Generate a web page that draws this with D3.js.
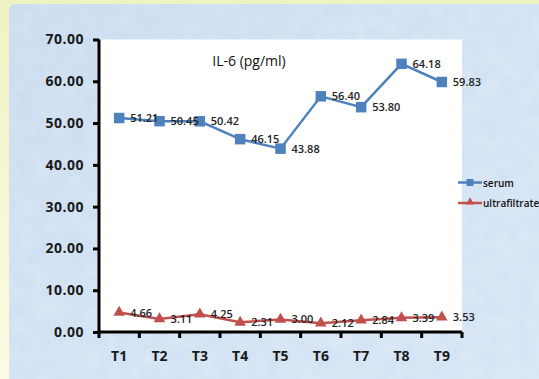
<!DOCTYPE html>
<html><head><meta charset="utf-8">
<script src="https://cdn.jsdelivr.net/npm/d3@7"></script>
<style>
html,body{margin:0;padding:0;background:#fff;}
svg{display:block;}
</style></head>
<body>
<svg id="c" width="539" height="379"></svg>
<script>
const categories = ["T1","T2","T3","T4","T5","T6","T7","T8","T9"];
const serum = [51.21, 50.45, 50.42, 46.15, 43.88, 56.40, 53.80, 64.18, 59.83];
const ultrafiltrate = [4.66, 3.11, 4.25, 2.31, 3.00, 2.12, 2.84, 3.39, 3.53];
const yTicks = [0,10,20,30,40,50,60,70];
const seriesNames = ["serum","ultrafiltrate"];
const chartTitle = "IL-6 (pg/ml)";

(function(){
const svg = d3.select("#c");
const font = "'Open Sans', 'DejaVu Sans', sans-serif";

const defs = svg.append("defs");
const lg = defs.append("linearGradient").attr("id","side").attr("x1",0).attr("y1",0).attr("x2",0).attr("y2",1);
lg.append("stop").attr("offset","0%").attr("stop-color","#eef3c2");
lg.append("stop").attr("offset","100%").attr("stop-color","#fcfbe4");
svg.append("rect").attr("width",539).attr("height",379).attr("fill","url(#side)");
const bg = defs.append("linearGradient").attr("id","bg").attr("x1",0).attr("y1",0).attr("x2",1).attr("y2",1);
bg.append("stop").attr("offset","0%").attr("stop-color","#cbdcef");
bg.append("stop").attr("offset","50%").attr("stop-color","#d2e2f3");
bg.append("stop").attr("offset","100%").attr("stop-color","#d6e5f5");
svg.append("rect").attr("x",9).attr("y",4).attr("width",540).attr("height",380).attr("rx",6).attr("fill","url(#bg)");
const filt = defs.append("filter").attr("id","tex").attr("x",0).attr("y",0).attr("width","100%").attr("height","100%");
filt.append("feTurbulence").attr("type","fractalNoise").attr("baseFrequency",0.06).attr("numOctaves",3).attr("seed",5);
filt.append("feColorMatrix").attr("type","matrix").attr("values","0 0 0 0 1  0 0 0 0 1  0 0 0 0 1  0 0 0 0.45 -0.12");
svg.append("rect").attr("x",9).attr("y",4).attr("width",540).attr("height",380).attr("filter","url(#tex)").attr("opacity",0.6);

const pl = 99, pr = 462, pt = 39.5, pb = 332;
const x = d3.scaleBand().domain(categories).range([pl,pr]);
const y = d3.scaleLinear().domain([0,70]).range([pb, pt]);

svg.append("rect").attr("x",pl).attr("y",pt).attr("width",pr-pl).attr("height",pb-pt).attr("fill","#ffffff");

svg.append("text").attr("x",249).attr("y",66).attr("text-anchor","middle")
  .attr("font-family",font).attr("font-size",14).attr("fill","#111").text(chartTitle);

const yAxis = svg.append("g").attr("transform",`translate(${pl},0)`)
  .call(d3.axisLeft(y).tickValues(yTicks).tickFormat(d3.format(".2f")).tickSize(6).tickPadding(9));
yAxis.select(".domain").attr("stroke","#000").attr("stroke-width",3).attr("d",`M0,${pt}V${pb+1.5}`);
yAxis.selectAll(".tick line").attr("stroke","#000").attr("stroke-width",3);
yAxis.selectAll(".tick text").attr("font-family",font).attr("font-weight","bold").attr("font-size",14).attr("letter-spacing",0.5).attr("fill","#1a1a1a");

const xAxis = svg.append("g").attr("transform",`translate(0,${pb})`)
  .call(d3.axisBottom(x).tickSize(0).tickPadding(19));
xAxis.select(".domain").attr("stroke","#000").attr("stroke-width",3).attr("d",`M${pl-1.5},0H${pr}`);
xAxis.selectAll(".tick text").attr("font-family",font).attr("font-weight","bold").attr("font-size",14).attr("fill","#1a1a1a");
const bounds = categories.map(c => x(c)).concat([pr]);
xAxis.selectAll(".btick").data(bounds).enter().append("line")
  .attr("x1",d=>d).attr("x2",d=>d).attr("y1",0).attr("y2",6).attr("stroke","#000").attr("stroke-width",3);

const cx = c => x(c) + x.bandwidth()/2;
const line = d3.line().x((d,i)=>cx(categories[i])).y(d=>y(d));

const blue = "#4f81bd", red = "#c0504d";
svg.append("path").datum(serum).attr("d",line).attr("fill","none").attr("stroke",blue).attr("stroke-width",2.5);
svg.append("path").datum(ultrafiltrate).attr("d",line).attr("fill","none").attr("stroke",red).attr("stroke-width",2.5);

svg.selectAll(".sq").data(serum).enter().append("rect")
  .attr("x",(d,i)=>cx(categories[i])-5.25).attr("y",d=>y(d)-5.25).attr("width",10.5).attr("height",10.5).attr("fill",blue);
const tri = d3.symbol().type(d3.symbolTriangle).size(58);
svg.selectAll(".tr").data(ultrafiltrate).enter().append("path")
  .attr("d",tri).attr("transform",(d,i)=>`translate(${cx(categories[i])},${y(d)})`).attr("fill",red);

function labels(data){
  svg.selectAll(null).data(data).enter().append("text")
    .attr("x",(d,i)=>cx(categories[i])+11).attr("y",d=>y(d)+4)
    .attr("font-family",font).attr("font-size",11).attr("font-weight",600).attr("fill","#222")
    .text(d=>d3.format(".2f")(d));
}
labels(serum);
labels(ultrafiltrate);

const legY = [182.5, 203];
[blue, red].forEach((col,i)=>{
  const g = svg.append("g");
  g.append("line").attr("x1",458).attr("x2",482).attr("y1",legY[i]).attr("y2",legY[i]).attr("stroke",col).attr("stroke-width",2.5);
  if(i===0) g.append("rect").attr("x",466.5).attr("y",legY[i]-3.5).attr("width",7).attr("height",7).attr("fill",col);
  else g.append("path").attr("d",d3.symbol().type(d3.symbolTriangle).size(30)).attr("transform",`translate(470,${legY[i]-1})`).attr("fill",col);
  g.append("text").attr("x",483).attr("y",legY[i]+4).attr("font-family",font).attr("font-size",10).attr("font-weight",600).attr("fill","#111").text(seriesNames[i]);
});
})();
</script>
</body></html>
